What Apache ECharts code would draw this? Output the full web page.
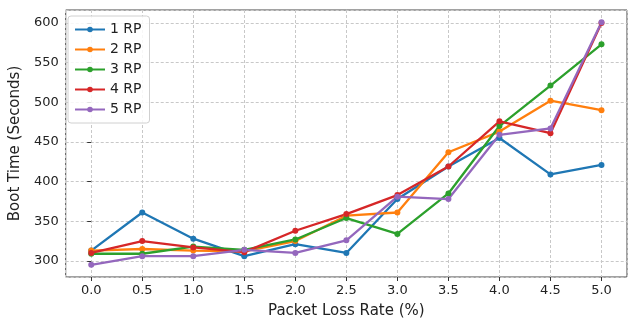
<!DOCTYPE html>
<html>
<head>
<meta charset="utf-8">
<script src="https://cdn.jsdelivr.net/npm/echarts@6/dist/echarts.min.js"></script>
<style>
  html, body { margin: 0; padding: 0; background: #fff; }
  #chart { width: 635px; height: 324px; }
</style>
</head>
<body>
<div id="chart"></div>
<script>
// packet loss rate (%) on x
const lossRates = [0.0, 0.5, 1.0, 1.5, 2.0, 2.5, 3.0, 3.5, 4.0, 4.5, 5.0]
const seriesNames = ['1 RP', '2 RP', '3 RP', '4 RP', '5 RP']
// boot time (seconds)
const rp1 = [313, 361, 328, 306, 321, 310, 378, 419, 455, 409, 421]
const rp2 = [313, 315, 313, 312, 325, 357, 361, 437, 463, 502, 490]
const rp3 = [309, 309, 318, 314, 327, 354, 334, 385, 470, 521, 573]
const rp4 = [310, 325, 317, 311, 338, 359, 383, 419, 476, 461, 600]
const rp5 = [295, 306, 306, 314, 310, 326, 381, 378, 459, 467, 601]
const colors = ['#1f77b4', '#ff7f0e', '#2ca02c', '#d62728', '#9467bd']

const font = 'DejaVu Sans'
const myChart = echarts.init(document.getElementById('chart'))

const allData = [rp1, rp2, rp3, rp4, rp5]

// only label the "real" ticks, not the padded ends
function tickLabel(step, digits) {
  return function (v) {
    const r = Math.round(v / step) * step
    if (Math.abs(r - v) > 1e-6) return ''
    return r.toFixed(digits)
  }
}

const option = {
  animation: false,
  color: colors,
  grid: {
    left: 62,
    right: 8,
    top: 10,
    bottom: 37,
    show: true,
    borderColor: '#444',
    borderWidth: 1
  },
  legend: {
    orient: 'vertical',
    left: 68,
    top: 16,
    padding: [5, 8, 5, 6],
    itemWidth: 30,
    itemHeight: 7,
    itemGap: 3,
    backgroundColor: 'rgba(255,255,255,0.85)',
    borderColor: '#d0d0d0',
    borderWidth: 1,
    borderRadius: 3,
    textStyle: { fontFamily: font, fontSize: 14, color: '#222', lineHeight: 17 },
    data: seriesNames
  },
  xAxis: {
    type: 'value',
    min: -0.25,
    max: 5.25,
    splitNumber: 11,
    name: 'Packet Loss Rate (%)',
    nameLocation: 'middle',
    nameGap: 27,
    nameTextStyle: { fontFamily: font, fontSize: 15, color: '#222' },
    axisLine: { show: false },
    axisTick: { show: true, length: 4, lineStyle: { color: '#333' } },
    axisLabel: {
      fontFamily: font, fontSize: 13, color: '#222', margin: 7,
      showMinLabel: false, showMaxLabel: false,
      formatter: tickLabel(0.5, 1)
    },
    splitLine: { show: true, lineStyle: { color: '#c8c8c8', type: [3, 2], width: 1 } }
  },
  yAxis: {
    type: 'value',
    min: 279.7,
    max: 616.3,
    splitNumber: 7,
    name: 'Boot Time (Seconds)',
    nameLocation: 'middle',
    nameGap: 33,
    nameTextStyle: { fontFamily: font, fontSize: 15, color: '#222' },
    axisLine: { show: false },
    axisTick: { show: true, length: 4, lineStyle: { color: '#333' } },
    axisLabel: {
      fontFamily: font, fontSize: 13, color: '#222', margin: 7,
      showMinLabel: false, showMaxLabel: false,
      formatter: tickLabel(50, 0)
    },
    splitLine: { show: true, lineStyle: { color: '#c8c8c8', type: [3, 2], width: 1 } }
  },
  series: seriesNames.map((name, i) => ({
    name: name,
    type: 'line',
    symbol: 'circle',
    symbolSize: 6,
    lineStyle: { width: 2.3 },
    itemStyle: { color: colors[i] },
    emphasis: { disabled: true },
    data: lossRates.map((x, j) => [x, allData[i][j]])
  }))
}

myChart.setOption(option)
</script>
</body>
</html>
